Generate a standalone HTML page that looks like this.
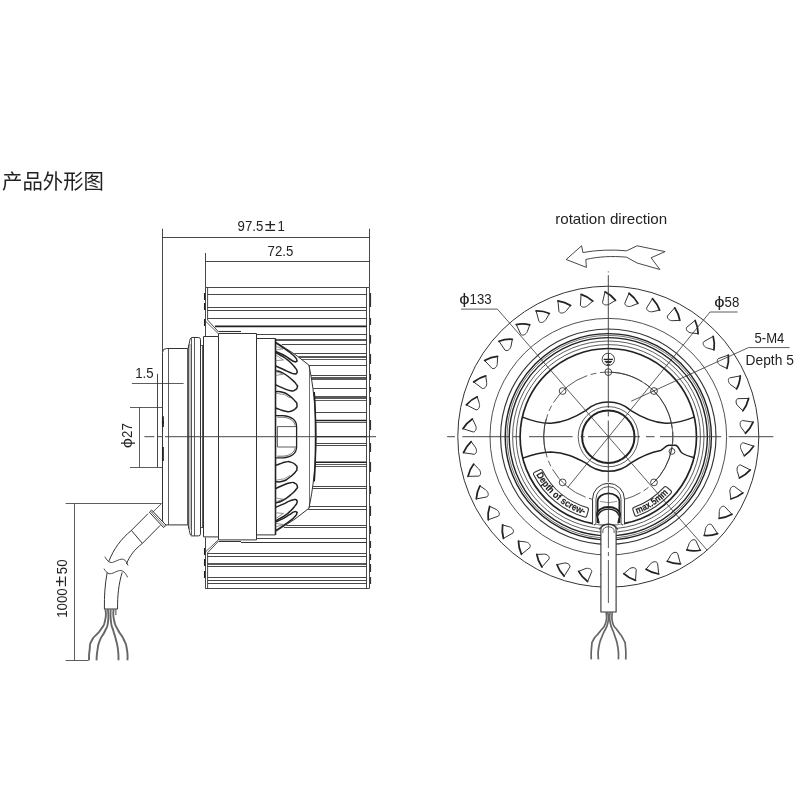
<!DOCTYPE html>
<html lang="zh">
<head>
<meta charset="utf-8">
<title>产品外形图</title>
<style>
html,body{margin:0;padding:0;background:#fff;}
body{width:800px;height:800px;overflow:hidden;position:relative;font-family:"Liberation Sans","Noto Sans CJK SC",sans-serif;color:#222;}
h1{will-change:transform;position:absolute;left:2px;top:168.4px;margin:0;font-size:20.4px;line-height:28px;font-weight:400;letter-spacing:0;color:#222;white-space:nowrap;}
svg{position:absolute;left:0;top:0;will-change:transform;}
svg text{font-family:"Liberation Sans","Noto Sans CJK SC",sans-serif;fill:#222;stroke:none;}
</style>
</head>
<body>
<h1>产品外形图</h1>
<svg width="800" height="800" viewBox="0 0 800 800" fill="none" stroke="#333" stroke-width="0.9" stroke-linecap="butt" stroke-linejoin="round">
<g id="side">
<line x1="162.5" y1="228.7" x2="162.5" y2="352"/>
<line x1="369.5" y1="228.7" x2="369.5" y2="287.4"/>
<line x1="162" y1="237.5" x2="369.3" y2="237.5"/>
<line x1="205.5" y1="253" x2="205.5" y2="287.4"/>
<line x1="205.4" y1="261.5" x2="369.3" y2="261.5"/>
<line x1="205.4" y1="287.5" x2="369.3" y2="287.5"/>
<line x1="205.4" y1="588.5" x2="369.3" y2="588.5"/>
<line x1="366.5" y1="287.4" x2="366.5" y2="588.6"/>
<line x1="369.5" y1="287.4" x2="369.5" y2="588.6"/>
<line x1="205.5" y1="287.4" x2="205.5" y2="336.5"/>
<line x1="205.5" y1="537.5" x2="205.5" y2="588.6"/>
<path d="M207.6,287.4 L207.6,320 L218.6,332"/>
<path d="M207.6,588.6 L207.6,552.8 L218.6,541"/>
<path d="M205.4,321 L218.2,333.6" stroke-width="0.8"/>
<path d="M205.4,552 L218.2,540" stroke-width="0.8"/>
<line x1="204.6" y1="293" x2="204.6" y2="300" stroke-width="1.3" stroke="#222"/>
<line x1="204.6" y1="303" x2="204.6" y2="310" stroke-width="1.3" stroke="#222"/>
<line x1="204.6" y1="319" x2="204.6" y2="326" stroke-width="1.3" stroke="#222"/>
<line x1="204.6" y1="548" x2="204.6" y2="555" stroke-width="1.3" stroke="#222"/>
<line x1="204.6" y1="559" x2="204.6" y2="566" stroke-width="1.3" stroke="#222"/>
<line x1="204.6" y1="571" x2="204.6" y2="578" stroke-width="1.3" stroke="#222"/>
<line x1="370.5" y1="293" x2="370.5" y2="307" stroke-width="1.2"/>
<line x1="370.5" y1="318" x2="370.5" y2="325" stroke-width="1.2"/>
<line x1="370.5" y1="335" x2="370.5" y2="343.6" stroke-width="1.2"/>
<line x1="370.5" y1="354" x2="370.5" y2="364" stroke-width="1.2"/>
<line x1="370.5" y1="374" x2="370.5" y2="380" stroke-width="1.2"/>
<line x1="370.5" y1="387" x2="370.5" y2="392" stroke-width="1.2"/>
<line x1="370.5" y1="397" x2="370.5" y2="405" stroke-width="1.2"/>
<line x1="370.5" y1="420" x2="370.5" y2="430" stroke-width="1.2"/>
<line x1="370.5" y1="443" x2="370.5" y2="452" stroke-width="1.2"/>
<line x1="370.5" y1="462" x2="370.5" y2="472" stroke-width="1.2"/>
<line x1="370.5" y1="486" x2="370.5" y2="494" stroke-width="1.2"/>
<line x1="370.5" y1="506" x2="370.5" y2="516" stroke-width="1.2"/>
<line x1="370.5" y1="526" x2="370.5" y2="534" stroke-width="1.2"/>
<line x1="370.5" y1="541" x2="370.5" y2="548" stroke-width="1.2"/>
<line x1="370.5" y1="554" x2="370.5" y2="560" stroke-width="1.2"/>
<line x1="370.5" y1="564" x2="370.5" y2="572" stroke-width="1.2"/>
<line x1="370.5" y1="577" x2="370.5" y2="584" stroke-width="1.2"/>
<line x1="207.6" y1="294.5" x2="366.6" y2="294.5" stroke-width="0.9"/>
<line x1="207.6" y1="307.5" x2="366.6" y2="307.5" stroke-width="0.9"/>
<line x1="207.6" y1="310.5" x2="366.6" y2="310.5" stroke-width="0.9"/>
<line x1="207.6" y1="318.5" x2="366.6" y2="318.5" stroke-width="0.9"/>
<line x1="215" y1="326.3" x2="366.6" y2="326.3" stroke-width="1.7" stroke="#222"/>
<line x1="218.7" y1="331.5" x2="241" y2="331.5" stroke-width="1.1"/>
<line x1="207.6" y1="583.5" x2="366.6" y2="583.5" stroke-width="0.9"/>
<line x1="207.6" y1="580.5" x2="366.6" y2="580.5" stroke-width="0.9"/>
<line x1="207.6" y1="577.5" x2="366.6" y2="577.5" stroke-width="0.9"/>
<line x1="207.6" y1="566.5" x2="366.6" y2="566.5" stroke-width="0.9"/>
<line x1="207.6" y1="556.5" x2="366.6" y2="556.5" stroke-width="0.9"/>
<line x1="207.6" y1="553.5" x2="366.6" y2="553.5" stroke-width="0.9"/>
<line x1="207.6" y1="564" x2="366.6" y2="564" stroke-width="1.5" stroke="#222"/>
<line x1="241" y1="542.5" x2="366.6" y2="542.5" stroke-width="1.2"/>
<line x1="219" y1="541.5" x2="241" y2="541.5" stroke-width="1"/>
<line x1="256.3" y1="334.5" x2="366.6" y2="334.5" stroke-width="0.9"/>
<line x1="276" y1="340" x2="366.6" y2="340" stroke-width="1.3" stroke="#222"/>
<line x1="281.76" y1="344.5" x2="366.6" y2="344.5" stroke-width="0.9"/>
<line x1="294.49" y1="353.5" x2="366.6" y2="353.5" stroke-width="0.9"/>
<line x1="298.68" y1="357" x2="366.6" y2="357" stroke-width="1.4" stroke="#222"/>
<line x1="301.81" y1="359.5" x2="366.6" y2="359.5" stroke-width="0.8"/>
<line x1="309.1" y1="365.5" x2="366.6" y2="365.5" stroke-width="0.9"/>
<line x1="310.97" y1="375.5" x2="366.6" y2="375.5" stroke-width="0.9"/>
<line x1="311.47" y1="378" x2="366.6" y2="378" stroke-width="1.4" stroke="#222"/>
<line x1="311.73" y1="379.5" x2="366.6" y2="379.5" stroke-width="0.8"/>
<line x1="313.06" y1="388.5" x2="366.6" y2="388.5" stroke-width="0.9"/>
<line x1="314.09" y1="397" x2="366.6" y2="397" stroke-width="1.5" stroke="#222"/>
<line x1="314.29" y1="398.5" x2="366.6" y2="398.5" stroke-width="0.8"/>
<line x1="314.45" y1="400.5" x2="366.6" y2="400.5" stroke-width="0.8"/>
<line x1="315.45" y1="412.5" x2="366.6" y2="412.5" stroke-width="0.9"/>
<line x1="315.94" y1="420.6" x2="366.6" y2="420.6" stroke-width="1.5" stroke="#222"/>
<line x1="316.02" y1="422.5" x2="366.6" y2="422.5" stroke-width="0.8"/>
<line x1="316.3" y1="436.7" x2="366.6" y2="436.7" stroke-width="1.3" stroke="#222"/>
<line x1="316.24" y1="443.5" x2="366.6" y2="443.5" stroke-width="0.9"/>
<line x1="316.2" y1="445.5" x2="366.6" y2="445.5" stroke-width="0.9"/>
<line x1="315.38" y1="462.3" x2="366.6" y2="462.3" stroke-width="1.5" stroke="#222"/>
<line x1="315.22" y1="464.5" x2="366.6" y2="464.5" stroke-width="0.8"/>
<line x1="315.05" y1="466.5" x2="366.6" y2="466.5" stroke-width="0.8"/>
<line x1="312.84" y1="486.5" x2="366.6" y2="486.5" stroke-width="0.9"/>
<line x1="312.54" y1="488.5" x2="366.6" y2="488.5" stroke-width="0.9"/>
<line x1="309.46" y1="506.5" x2="366.6" y2="506.5" stroke-width="0.9"/>
<line x1="308.19" y1="509.5" x2="366.6" y2="509.5" stroke-width="0.9"/>
<line x1="286.23" y1="525.5" x2="366.6" y2="525.5" stroke-width="0.9"/>
<line x1="283.93" y1="527.5" x2="366.6" y2="527.5" stroke-width="0.9"/>
<line x1="256.3" y1="538.5" x2="366.6" y2="538.5" stroke-width="0.9"/>
<rect x="188.4" y="344" width="3.3" height="185.4" fill="#c4c4c4" stroke="none"/>
<path d="M162.5,436.7 L162.5,352.5 Q162.5,348.5 166.5,348.5 L187.5,348.5 C189.6,347.5 188.9,338.5 191.5,337.5 L198.6,337.5 Q200.5,337.5 200.5,339.6 L200.5,436.7" stroke-width="1"/>
<line x1="168.5" y1="348.5" x2="168.5" y2="436.7" stroke-width="0.8"/>
<line x1="187.5" y1="348.5" x2="187.5" y2="436.7" stroke-width="0.8"/>
<line x1="194.5" y1="337.5" x2="194.5" y2="436.7" stroke-width="0.8"/>
<line x1="202.5" y1="345.5" x2="202.5" y2="436.7" stroke-width="0.8"/>
<line x1="200.6" y1="345.5" x2="203.6" y2="345.5" stroke-width="0.8"/>
<path d="M203.5,436.7 L203.5,336.5 L218.5,336.5 L218.5,436.7" stroke-width="1"/>
<path d="M218.5,336.5 L218.5,333.5 L256.5,333.5 L256.5,436.7" stroke-width="1"/>
<path d="M256.5,338.5 L275.5,338.5" stroke-width="1"/>
<line x1="275.5" y1="338.5" x2="275.5" y2="436.7" stroke-width="1.6" stroke="#222"/>
<path d="M275.5,341.8 L295,354.4 L308.8,365 C313,383 316,410 316,436.7" stroke-width="1"/>
<line x1="309.5" y1="365.3" x2="309.5" y2="436.7" stroke-width="0.7"/>
<path d="M314.2,392 C315.2,405 315.6,420 315.6,436.7" stroke-width="1.6" stroke="#222"/>
<path d="M162.5,436.7 L162.5,520.9 Q162.5,524.9 166.5,524.9 L187.5,524.9 C189.6,525.9 188.9,534.9 191.5,535.9 L198.6,535.9 Q200.5,535.9 200.5,533.8 L200.5,436.7" stroke-width="1"/>
<line x1="168.5" y1="524.9" x2="168.5" y2="436.7" stroke-width="0.8"/>
<line x1="187.5" y1="524.9" x2="187.5" y2="436.7" stroke-width="0.8"/>
<line x1="194.5" y1="535.9" x2="194.5" y2="436.7" stroke-width="0.8"/>
<line x1="202.5" y1="527.9" x2="202.5" y2="436.7" stroke-width="0.8"/>
<line x1="200.6" y1="527.5" x2="203.6" y2="527.5" stroke-width="0.8"/>
<path d="M203.5,436.7 L203.5,536.9 L218.5,536.9 L218.5,436.7" stroke-width="1"/>
<path d="M218.5,536.9 L218.5,539.9 L256.5,539.9 L256.5,436.7" stroke-width="1"/>
<path d="M256.5,534.9 L275.5,534.9" stroke-width="1"/>
<line x1="275.5" y1="534.9" x2="275.5" y2="436.7" stroke-width="1.6" stroke="#222"/>
<path d="M275.5,531.6 L295,519 L308.8,508.4 C313,490.4 316,463.4 316,436.7" stroke-width="1"/>
<line x1="309.5" y1="508.1" x2="309.5" y2="436.7" stroke-width="0.7"/>
<path d="M314.2,481.4 C315.2,468.4 315.6,453.4 315.6,436.7" stroke-width="1.6" stroke="#222"/>
<line x1="188.5" y1="345" x2="188.5" y2="528.4" stroke-width="0.8"/>
<line x1="191.5" y1="338" x2="191.5" y2="535.4" stroke-width="0.8"/>
<path d="M275.6,391.6 C277.9,391.8 278.1,390.93 282.5,392.2 C286.9,393.47 284.63,392.47 288.8,395.4 C292.97,398.33 292.3,397.87 295,401 C297.7,404.13 296.7,402.3 296.9,404.8 C297.1,407.3 297.7,406.33 295.6,408.5 C293.5,410.67 293.93,410.37 290.6,411.3 C287.27,412.23 289.33,411.93 285.6,411.3 C281.87,410.67 282.73,410.53 279.4,409.4 C276.07,408.27 276.87,408.4 275.6,407.9" stroke-width="1.5" stroke="#222"/>
<path d="M275.6,370.7 C277.9,371.43 277.5,370.3 282.5,372.9 C287.5,375.5 286.03,374.77 290.6,378.5 C295.17,382.23 294,381.17 296.2,384.1 C298.4,387.03 297.6,385.33 297.2,387.3 C296.8,389.27 297.2,388.87 295,390 C292.8,391.13 294.77,391.4 290.6,390.7 C286.43,390 287.5,389.87 282.5,387.9 C277.5,385.93 277.9,385.83 275.6,384.8" stroke-width="1.5" stroke="#222"/>
<path d="M275.6,352.5 C277.07,353.33 276.87,353.17 280,355 C283.13,356.83 281.67,355.67 285,358 C288.33,360.33 286.67,358.83 290,362 C293.33,365.17 292.67,364.5 295,367.5 C297.33,370.5 296.47,369.1 297,371 C297.53,372.9 297.4,372.27 296.6,373.2 C295.8,374.13 296.8,374.03 294.6,373.8 C292.4,373.57 294.03,374.1 290,372.5 C285.97,370.9 287.3,371.17 282.5,369 C277.7,366.83 277.9,367 275.6,366" stroke-width="1.5" stroke="#222"/>
<path d="M275.6,343 C277.07,343.83 276.87,343.5 280,345.5 C283.13,347.5 281.67,346.67 285,349 C288.33,351.33 286.67,349.83 290,352.5 C293.33,355.17 292.73,354.5 295,357 C297.27,359.5 296.33,358.53 296.8,360 C297.27,361.47 297.33,360.9 296.4,361.4 C295.47,361.9 296.47,362.47 294,361.5 C291.53,360.53 292.83,360.83 289,358.5 C285.17,356.17 286.97,356.83 282.5,354.5 C278.03,352.17 277.9,352.5 275.6,351.5" stroke-width="1.5" stroke="#222"/>
<path d="M275.8,346.4 L283,348.9 L275.8,350" stroke-width="0.8" stroke="#777"/>
<path d="M275.8,355 L283.5,360 L275.8,360.6" stroke-width="0.8" stroke="#777"/>
<path d="M275.8,371.6 L283.2,374.2 L275.8,375.4" stroke-width="0.8" stroke="#777"/>
<path d="M275.8,393.2 L284.4,394.6 L290,398" stroke-width="0.8" stroke="#777"/>
<path d="M275.6,481.8 C277.9,481.6 278.1,482.47 282.5,481.2 C286.9,479.93 284.63,480.93 288.8,478 C292.97,475.07 292.3,475.53 295,472.4 C297.7,469.27 296.7,471.1 296.9,468.6 C297.1,466.1 297.7,467.07 295.6,464.9 C293.5,462.73 293.93,463.03 290.6,462.1 C287.27,461.17 289.33,461.47 285.6,462.1 C281.87,462.73 282.73,462.87 279.4,464 C276.07,465.13 276.87,465 275.6,465.5" stroke-width="1.5" stroke="#222"/>
<path d="M275.6,502.7 C277.9,501.97 277.5,503.1 282.5,500.5 C287.5,497.9 286.03,498.63 290.6,494.9 C295.17,491.17 294,492.23 296.2,489.3 C298.4,486.37 297.6,488.07 297.2,486.1 C296.8,484.13 297.2,484.53 295,483.4 C292.8,482.27 294.77,482 290.6,482.7 C286.43,483.4 287.5,483.53 282.5,485.5 C277.5,487.47 277.9,487.57 275.6,488.6" stroke-width="1.5" stroke="#222"/>
<path d="M275.6,520.9 C277.07,520.07 276.87,520.23 280,518.4 C283.13,516.57 281.67,517.73 285,515.4 C288.33,513.07 286.67,514.57 290,511.4 C293.33,508.23 292.67,508.9 295,505.9 C297.33,502.9 296.47,504.3 297,502.4 C297.53,500.5 297.4,501.13 296.6,500.2 C295.8,499.27 296.8,499.37 294.6,499.6 C292.4,499.83 294.03,499.3 290,500.9 C285.97,502.5 287.3,502.23 282.5,504.4 C277.7,506.57 277.9,506.4 275.6,507.4" stroke-width="1.5" stroke="#222"/>
<path d="M275.6,530.4 C277.07,529.57 276.87,529.9 280,527.9 C283.13,525.9 281.67,526.73 285,524.4 C288.33,522.07 286.67,523.57 290,520.9 C293.33,518.23 292.73,518.9 295,516.4 C297.27,513.9 296.33,514.87 296.8,513.4 C297.27,511.93 297.33,512.5 296.4,512 C295.47,511.5 296.47,510.93 294,511.9 C291.53,512.87 292.83,512.57 289,514.9 C285.17,517.23 286.97,516.57 282.5,518.9 C278.03,521.23 277.9,520.9 275.6,521.9" stroke-width="1.5" stroke="#222"/>
<path d="M275.8,527 L283,524.5 L275.8,523.4" stroke-width="0.8" stroke="#777"/>
<path d="M275.8,518.4 L283.5,513.4 L275.8,512.8" stroke-width="0.8" stroke="#777"/>
<path d="M275.8,501.8 L283.2,499.2 L275.8,498" stroke-width="0.8" stroke="#777"/>
<path d="M275.8,480.2 L284.4,478.8 L290,475.4" stroke-width="0.8" stroke="#777"/>
<path d="M275.6,415.6 L283,415.6 C291,416 296.6,420 296.6,426.4 L296.6,447 C296.6,453.4 291,457.4 283,457.8 L275.6,457.8" stroke-width="1.3" stroke="#222"/>
<path d="M277.2,417.2 L283,417.2 C289.6,417.6 294.4,420.8 295.2,425.6" stroke-width="0.7"/>
<path d="M277.2,456.2 L283,456.2 C289.6,455.8 294.4,452.6 295.2,447.8" stroke-width="0.7"/>
<path d="M296.6,426.6 L277.4,426.6 L277.4,447 L296.6,447" stroke-width="0.8"/>
<path d="M144.4,436.7 H154.4 M157.6,436.7 H162.6 M165,436.7 H316" stroke-width="0.9"/>
<path d="M316,436.7 H376" stroke-width="0.9"/>
<line x1="162.9" y1="416.3" x2="162.9" y2="423.8" stroke-width="1.9" stroke="#222"/>
<line x1="162.9" y1="420.88" x2="162.9" y2="427" stroke-width="1.9" stroke="#222"/>
<line x1="162.9" y1="447" x2="162.9" y2="461" stroke-width="1.9" stroke="#222"/>
<line x1="131.9" y1="383.5" x2="183.6" y2="383.5" stroke-width="0.8"/>
<line x1="157.5" y1="373.8" x2="157.5" y2="467.1" stroke-width="0.9"/>
<line x1="130" y1="407.5" x2="162" y2="407.5" stroke-width="0.8"/>
<line x1="130" y1="467.5" x2="162" y2="467.5" stroke-width="0.8"/>
<line x1="139.5" y1="407.2" x2="139.5" y2="467.1" stroke-width="0.8"/>
<line x1="65.6" y1="503.5" x2="161.4" y2="503.5" stroke-width="0.8"/>
<line x1="74.5" y1="503.6" x2="74.5" y2="660.3" stroke-width="0.8"/>
<line x1="65.6" y1="660.5" x2="88.6" y2="660.5" stroke-width="0.8"/>
<path d="M149.4,512.2 L151.6,510 L166,525.2 L163.6,527.6 Z" stroke-width="1" fill="#fff"/>
<path d="M150.4,511 L164.8,526.4" stroke-width="0.7"/>
<path d="M148,513.7 L131.4,530.4 L142.4,543.4 L160.2,525.4" stroke-width="1" fill="#fff"/>
<line x1="161.4" y1="503.6" x2="152.6" y2="512.4" stroke-width="0.8"/>
<path d="M131.4,530.4 C121,539 113.6,549 108.8,561.4" stroke-width="1"/>
<path d="M142.4,543.4 C134.6,549.4 129.6,556 126.4,564" stroke-width="1"/>
<path d="M104.8,556.6 C106.6,559.8 109,563.2 112.4,562.4 C116.4,561.4 120.2,558.2 123.6,559.4 C126,560.4 127,563 128,565.6" stroke-width="0.9"/>
<path d="M104,568.6 C105.6,571.6 108,574.4 111.4,573.6 C115.4,572.6 118.6,569.6 122,570.8 C124.6,571.8 126.4,574.6 127.6,577.4" stroke-width="0.9"/>
<path d="M107.2,572.6 C105,584 104.2,596 104.4,609 L117.6,609 C117.4,596 118.6,584 122.2,572.4" stroke-width="1"/>
<path d="M105.5,609 C105.4,612.67 106.87,613 105.2,620 C103.53,627 104.9,623.33 100.5,630 C96.1,636.67 95.63,633.33 92,640 C88.37,646.67 90.6,643.23 89.6,650 C88.6,656.77 89.2,656.87 89,660.3" stroke-width="1.9" stroke="#666" stroke-linecap="butt"/>
<path d="M108,609 C108,613.33 109,614.67 108,622 C107,629.33 107.67,625 105,631 C102.33,637 102.5,633.67 100,640 C97.5,646.33 98.67,643.23 97.5,650 C96.33,656.77 96.83,656.87 96.5,660.3" stroke-width="1.9" stroke="#666" stroke-linecap="butt"/>
<path d="M110.6,609 C110.73,613.33 110.07,614.67 111,622 C111.93,629.33 111.73,625 113.4,631 C115.07,637 114.47,633.67 116,640 C117.53,646.33 117.17,643.23 118,650 C118.83,656.77 118.33,656.87 118.5,660.3" stroke-width="1.9" stroke="#666" stroke-linecap="butt"/>
<path d="M113.5,609 C113.67,612.67 112.5,613 114,620 C115.5,627 114.67,623.33 118,630 C121.33,636.67 121,633.33 124,640 C127,646.67 125.83,643.23 127,650 C128.17,656.77 127.33,656.87 127.5,660.3" stroke-width="1.9" stroke="#666" stroke-linecap="butt"/>
<path d="M115.8,609 L115.9,615" stroke-width="1.2" stroke="#666" stroke-linecap="butt"/>
</g>
<g id="front">
<circle cx="608.3" cy="436.7" r="150.5" stroke-width="1"/>
<circle cx="608.3" cy="436.7" r="118.3" stroke-width="0.85"/>
<circle cx="608.3" cy="436.7" r="107.7" stroke-width="1.15"/>
<circle cx="608.3" cy="436.7" r="103.1" stroke-width="1.4" stroke="#222"/>
<circle cx="608.3" cy="436.7" r="101.3" stroke-width="0.7"/>
<circle cx="608.3" cy="436.7" r="99.1" stroke-width="1.4" stroke="#222"/>
<circle cx="608.3" cy="436.7" r="95.7" stroke-width="0.8"/>
<circle cx="608.3" cy="436.7" r="92.1" stroke-width="0.8"/>
<circle cx="608.3" cy="436.7" r="88.2" stroke-width="1.7" stroke="#222"/>
<path d="M605,291.84 Q611.53,295.24 615.48,300.39" stroke-width="1.75" stroke="#222" stroke-linecap="round"/>
<path d="M615.48,300.39 L609.58,304.01 C607.03,305.61 603.11,305.2 602.52,302.42 L605,291.84" stroke-width="1"/>
<path d="M629,293.28 Q634.88,297.71 637.93,303.44" stroke-width="1.75" stroke="#222" stroke-linecap="round"/>
<path d="M637.93,303.44 L631.52,306.04 C628.74,307.2 624.94,306.15 624.82,303.31 L629,293.28" stroke-width="1"/>
<path d="M652.44,298.65 Q657.51,303.99 659.58,310.14" stroke-width="1.75" stroke="#222" stroke-linecap="round"/>
<path d="M659.58,310.14 L652.82,311.65 C649.9,312.34 646.31,310.68 646.66,307.86 L652.44,298.65" stroke-width="1"/>
<path d="M674.67,307.81 Q678.8,313.91 679.83,320.32" stroke-width="1.75" stroke="#222" stroke-linecap="round"/>
<path d="M679.83,320.32 L672.91,320.69 C669.91,320.89 666.65,318.66 667.46,315.94 L674.67,307.81" stroke-width="1"/>
<path d="M695.1,320.5 Q698.16,327.19 698.12,333.69" stroke-width="1.75" stroke="#222" stroke-linecap="round"/>
<path d="M698.12,333.69 L691.24,332.92 C688.25,332.62 685.4,329.89 686.65,327.34 L695.1,320.5" stroke-width="1"/>
<path d="M713.16,336.38 Q715.08,343.49 713.97,349.89" stroke-width="1.75" stroke="#222" stroke-linecap="round"/>
<path d="M713.97,349.89 L707.31,348 C704.41,347.21 702.04,344.04 703.69,341.73 L713.16,336.38" stroke-width="1"/>
<path d="M728.35,355.02 Q729.08,362.34 726.93,368.47" stroke-width="1.75" stroke="#222" stroke-linecap="round"/>
<path d="M726.93,368.47 L720.67,365.51 C717.94,364.26 716.13,360.75 718.14,358.74 L728.35,355.02" stroke-width="1"/>
<path d="M740.28,375.9 Q739.79,383.25 736.66,388.94" stroke-width="1.75" stroke="#222" stroke-linecap="round"/>
<path d="M736.66,388.94 L730.97,384.99 C728.49,383.3 727.28,379.54 729.59,377.89 L740.28,375.9" stroke-width="1"/>
<path d="M748.6,398.46 Q746.91,405.63 742.88,410.73" stroke-width="1.75" stroke="#222" stroke-linecap="round"/>
<path d="M742.88,410.73 L737.93,405.9 C735.75,403.82 735.18,399.91 737.73,398.67 L748.6,398.46" stroke-width="1"/>
<path d="M753.09,422.09 Q750.24,428.88 745.44,433.24" stroke-width="1.75" stroke="#222" stroke-linecap="round"/>
<path d="M745.44,433.24 L741.34,427.66 C739.54,425.26 739.62,421.31 742.34,420.5 L753.09,422.09" stroke-width="1"/>
<path d="M753.64,446.13 Q749.71,452.35 744.25,455.87" stroke-width="1.75" stroke="#222" stroke-linecap="round"/>
<path d="M744.25,455.87 L741.13,449.69 C739.75,447.02 740.48,443.14 743.29,442.79 L753.64,446.13" stroke-width="1"/>
<path d="M750.22,469.93 Q745.32,475.43 739.36,478" stroke-width="1.75" stroke="#222" stroke-linecap="round"/>
<path d="M739.36,478 L737.3,471.39 C736.37,468.53 737.73,464.82 740.56,464.94 L750.22,469.93" stroke-width="1"/>
<path d="M742.93,492.85 Q737.19,497.46 730.89,499.01" stroke-width="1.75" stroke="#222" stroke-linecap="round"/>
<path d="M730.89,499.01 L729.94,492.16 C729.5,489.18 731.45,485.75 734.23,486.33 L742.93,492.85" stroke-width="1"/>
<path d="M731.97,514.25 Q725.55,517.86 719.07,518.35" stroke-width="1.75" stroke="#222" stroke-linecap="round"/>
<path d="M719.07,518.35 L719.27,511.43 C719.33,508.43 721.81,505.36 724.46,506.39 L731.97,514.25" stroke-width="1"/>
<path d="M717.63,533.56 Q710.71,536.06 704.24,535.48" stroke-width="1.75" stroke="#222" stroke-linecap="round"/>
<path d="M704.24,535.48 L705.57,528.69 C706.12,525.73 709.08,523.11 711.52,524.57 L717.63,533.56" stroke-width="1"/>
<path d="M700.31,550.24 Q693.07,551.57 686.79,549.93" stroke-width="1.75" stroke="#222" stroke-linecap="round"/>
<path d="M686.79,549.93 L689.22,543.45 C690.25,540.63 693.6,538.53 695.76,540.37 L700.31,550.24" stroke-width="1"/>
<path d="M680.49,563.85 Q673.12,563.96 667.2,561.32" stroke-width="1.75" stroke="#222" stroke-linecap="round"/>
<path d="M667.2,561.32 L670.66,555.33 C672.14,552.71 675.79,551.19 677.62,553.36 L680.49,563.85" stroke-width="1"/>
<path d="M658.69,574 Q651.41,572.91 646,569.32" stroke-width="1.75" stroke="#222" stroke-linecap="round"/>
<path d="M646,569.32 L650.4,563.98 C652.29,561.64 656.14,560.75 657.59,563.19 L658.69,574" stroke-width="1"/>
<path d="M635.52,580.43 Q628.52,578.16 623.77,573.73" stroke-width="1.75" stroke="#222" stroke-linecap="round"/>
<path d="M623.77,573.73 L628.99,569.19 C631.24,567.19 635.18,566.94 636.21,569.59 L635.52,580.43" stroke-width="1"/>
<path d="M611.6,582.96 Q605.07,579.56 601.12,574.41" stroke-width="1.75" stroke="#222" stroke-linecap="round"/>
<path d="M601.12,574.41 L607.02,570.79 C609.57,569.19 613.49,569.6 614.08,572.38 L611.6,582.96" stroke-width="1"/>
<path d="M587.6,581.52 Q581.72,577.09 578.67,571.36" stroke-width="1.75" stroke="#222" stroke-linecap="round"/>
<path d="M578.67,571.36 L585.08,568.76 C587.86,567.6 591.66,568.65 591.78,571.49 L587.6,581.52" stroke-width="1"/>
<path d="M564.16,576.15 Q559.09,570.81 557.02,564.66" stroke-width="1.75" stroke="#222" stroke-linecap="round"/>
<path d="M557.02,564.66 L563.78,563.15 C566.7,562.46 570.29,564.12 569.94,566.94 L564.16,576.15" stroke-width="1"/>
<path d="M541.93,566.99 Q537.8,560.89 536.77,554.48" stroke-width="1.75" stroke="#222" stroke-linecap="round"/>
<path d="M536.77,554.48 L543.69,554.11 C546.69,553.91 549.95,556.14 549.14,558.86 L541.93,566.99" stroke-width="1"/>
<path d="M521.5,554.3 Q518.44,547.61 518.48,541.11" stroke-width="1.75" stroke="#222" stroke-linecap="round"/>
<path d="M518.48,541.11 L525.36,541.88 C528.35,542.18 531.2,544.91 529.95,547.46 L521.5,554.3" stroke-width="1"/>
<path d="M503.44,538.42 Q501.52,531.31 502.63,524.91" stroke-width="1.75" stroke="#222" stroke-linecap="round"/>
<path d="M502.63,524.91 L509.29,526.8 C512.19,527.59 514.56,530.76 512.91,533.07 L503.44,538.42" stroke-width="1"/>
<path d="M488.25,519.78 Q487.52,512.46 489.67,506.33" stroke-width="1.75" stroke="#222" stroke-linecap="round"/>
<path d="M489.67,506.33 L495.93,509.29 C498.66,510.54 500.47,514.05 498.46,516.06 L488.25,519.78" stroke-width="1"/>
<path d="M476.32,498.9 Q476.81,491.55 479.94,485.86" stroke-width="1.75" stroke="#222" stroke-linecap="round"/>
<path d="M479.94,485.86 L485.63,489.81 C488.11,491.5 489.32,495.26 487.01,496.91 L476.32,498.9" stroke-width="1"/>
<path d="M468,476.34 Q469.69,469.17 473.72,464.07" stroke-width="1.75" stroke="#222" stroke-linecap="round"/>
<path d="M473.72,464.07 L478.67,468.9 C480.85,470.98 481.42,474.89 478.87,476.13 L468,476.34" stroke-width="1"/>
<path d="M463.51,452.71 Q466.36,445.92 471.16,441.56" stroke-width="1.75" stroke="#222" stroke-linecap="round"/>
<path d="M471.16,441.56 L475.26,447.14 C477.06,449.54 476.98,453.49 474.26,454.3 L463.51,452.71" stroke-width="1"/>
<path d="M462.96,428.67 Q466.89,422.45 472.35,418.93" stroke-width="1.75" stroke="#222" stroke-linecap="round"/>
<path d="M472.35,418.93 L475.47,425.11 C476.85,427.78 476.12,431.66 473.31,432.01 L462.96,428.67" stroke-width="1"/>
<path d="M466.38,404.87 Q471.28,399.37 477.24,396.8" stroke-width="1.75" stroke="#222" stroke-linecap="round"/>
<path d="M477.24,396.8 L479.3,403.41 C480.23,406.27 478.87,409.98 476.04,409.86 L466.38,404.87" stroke-width="1"/>
<path d="M473.67,381.95 Q479.41,377.34 485.71,375.79" stroke-width="1.75" stroke="#222" stroke-linecap="round"/>
<path d="M485.71,375.79 L486.66,382.64 C487.1,385.62 485.15,389.05 482.37,388.47 L473.67,381.95" stroke-width="1"/>
<path d="M484.63,360.55 Q491.05,356.94 497.53,356.45" stroke-width="1.75" stroke="#222" stroke-linecap="round"/>
<path d="M497.53,356.45 L497.33,363.37 C497.27,366.37 494.79,369.44 492.14,368.41 L484.63,360.55" stroke-width="1"/>
<path d="M498.97,341.24 Q505.89,338.74 512.36,339.32" stroke-width="1.75" stroke="#222" stroke-linecap="round"/>
<path d="M512.36,339.32 L511.03,346.11 C510.48,349.07 507.52,351.69 505.08,350.23 L498.97,341.24" stroke-width="1"/>
<path d="M516.29,324.56 Q523.53,323.23 529.81,324.87" stroke-width="1.75" stroke="#222" stroke-linecap="round"/>
<path d="M529.81,324.87 L527.38,331.35 C526.35,334.17 523,336.27 520.84,334.43 L516.29,324.56" stroke-width="1"/>
<path d="M536.11,310.95 Q543.48,310.84 549.4,313.48" stroke-width="1.75" stroke="#222" stroke-linecap="round"/>
<path d="M549.4,313.48 L545.94,319.47 C544.46,322.09 540.81,323.61 538.98,321.44 L536.11,310.95" stroke-width="1"/>
<path d="M557.91,300.8 Q565.19,301.89 570.6,305.48" stroke-width="1.75" stroke="#222" stroke-linecap="round"/>
<path d="M570.6,305.48 L566.2,310.82 C564.31,313.16 560.46,314.05 559.01,311.61 L557.91,300.8" stroke-width="1"/>
<path d="M581.08,294.37 Q588.08,296.64 592.83,301.07" stroke-width="1.75" stroke="#222" stroke-linecap="round"/>
<path d="M592.83,301.07 L587.61,305.61 C585.36,307.61 581.42,307.86 580.39,305.21 L581.08,294.37" stroke-width="1"/>
<path d="M521.9,416.9 C532,421 542,423.6 551,423.2 C565,422.4 575,417.4 585.6,410.59 A34.6,34.6 0 0 1 631,410.59 C641.6,417.4 651.6,422.4 665.6,423.2 C674.6,423.6 684.6,421 694.7,416.9" stroke-width="1.5" stroke="#222"/>
<path d="M522.1,458.4 C532,454.6 542,452.2 551,452 C565,452.4 575,457.2 585.6,462.81 A34.6,34.6 0 0 0 631,462.81" stroke-width="1.5" stroke="#222"/>
<path d="M631,462.81 C640,457 650,452.4 660.6,450.4 C664,449.6 665,445.6 668.6,445.2 L675.4,445.2 C679,445.6 679,451 682,453 C686,455.6 690,456.6 694.7,457.8" stroke-width="1.5" stroke="#222"/>
<circle cx="608.3" cy="436.7" r="30.1" stroke-width="0.8"/>
<circle cx="608.3" cy="436.7" r="26.2" stroke-width="2" stroke="#222"/>
<circle cx="608.3" cy="436.7" r="64.6" stroke-width="0.8" stroke-dasharray="44 3.5 6 3.5" stroke-dashoffset="46.5"/>
<path d="M611.68,372.19 A64.6,64.6 0 0 1 653.98,482.38" stroke-width="0.8"/>
<path d="M545.62,452.33 A64.6,64.6 0 0 1 546.2,418.89" stroke-width="0.8"/>
<circle cx="608.3" cy="372.1" r="3.4" stroke-width=".9"/>
<circle cx="562.62" cy="391.02" r="3.4" stroke-width=".9"/>
<circle cx="653.98" cy="391.02" r="3.4" stroke-width=".9"/>
<circle cx="562.62" cy="482.38" r="3.4" stroke-width=".9"/>
<circle cx="653.98" cy="482.38" r="3.4" stroke-width=".9"/>
<circle cx="672" cy="451.4" r="2.9" stroke-width=".9"/>
<circle cx="608.3" cy="359.4" r="6.2" stroke-width=".9"/>
<line x1="608.5" y1="353.8" x2="608.5" y2="359.4" stroke-width="1"/>
<line x1="603.7" y1="359.4" x2="612.9" y2="359.4" stroke-width="1.3" stroke="#222"/>
<line x1="604.7" y1="361.5" x2="611.9" y2="361.5" stroke-width="1.2"/>
<line x1="605.7" y1="362.5" x2="610.9" y2="362.5" stroke-width="1.2"/>
<line x1="606.9" y1="364.5" x2="609.7" y2="364.5" stroke-width="1"/>
<path d="M447.2,436.7 H455 M462.4,436.7 H509 M513,436.7 H521 M529,436.7 H572.6 M580.6,436.7 H584.6 M588,436.7 H640 M646,436.7 H654.6 M660,436.7 H721.2 M728.6,436.7 H773.4" stroke-width="0.9"/>
<path d="M608.3,271.4 V272.4 M608.3,275.2 V408 M608.3,411.2 V416.4 M608.3,420.6 V482 M608.3,486 V490 M608.3,494 V524" stroke-width="0.9"/>
<path d="M737.6,312 H710 L567.94,487.15" stroke-width="0.8"/>
<path d="M461,309.1 H497.4 L707.08,550.12" stroke-width="0.8"/>
<path d="M789.6,347.6 H748.4 L631.2,401.2" stroke-width="0.8"/>
<path d="M533.75,474.96 A83.8,83.8 0 0 0 584.4,517.02 Q586.33,517.57 586.85,515.64 L588.37,510.04 Q588.9,508.11 586.98,507.56 A74,74 0 0 1 542.57,470.7 Q541.68,468.91 539.88,469.78 L534.65,472.3 Q532.85,473.17 533.75,474.96 Z" stroke-width="1.1"/>
<path d="M637.11,516.03 A84.4,84.4 0 0 0 670.87,493.35 Q672.19,491.85 670.68,490.54 L666.74,487.14 Q665.23,485.84 663.9,487.33 A75.2,75.2 0 0 1 634.17,507.31 Q632.29,507.97 632.92,509.87 L634.58,514.8 Q635.22,516.69 637.11,516.03 Z" stroke-width="1.1"/>
<path d="M592.55,524.4 L592.55,499.2 A15.95,15.95 0 0 1 624.45,499.2 L624.45,524.4" stroke-width="1" fill="#fff"/>
<path d="M595.95,523.6 L595.95,499.2 A12.55,12.55 0 0 1 621.05,499.2 L621.05,523.6" stroke-width="0.85"/>
<path d="M595.95,523.6 L593.9,525.4 M621.05,523.6 L623.1,525.4" stroke-width="0.9"/>
<path d="M597.6,523 L597.6,501.6 A10.9,8.2 0 0 1 619.4,501.6 L619.4,523" stroke-width="1.8" stroke="#222" fill="#fff"/>
<path d="M599.9,501.4 Q608.5,504 617.1,501.4" stroke-width="0.8" stroke="#777"/>
<path d="M598.9,523.4 L596.9,514.6 A11.6,7.6 0 0 1 620.1,514.6 L618.1,523.4" stroke-width="1.8" stroke="#222" fill="#fff"/>
<path d="M598.3,515.8 A10.2,6.6 0 0 1 618.7,515.8" stroke-width="1.3" stroke="#222"/>
<path d="M600.9,612 L600.9,529 A7.6,4.6 0 0 1 616.1,529 L616.1,612 Z" stroke-width="1.1" fill="#fff"/>
<path d="M602.9,533 L602.9,530.6 A5.6,3.8 0 0 1 614.1,530.6 L614.1,533" stroke-width="0.8"/>
<path d="M599.5,529.6 A9,5.6 0 0 1 617.5,529.6" stroke-width="1"/>
<path d="M608.4,484 V548 M608.4,552 V556 M608.4,560 V603" stroke-width="0.8"/>
<path d="M606.2,612 C606,615.67 607.8,616.33 605.6,623 C603.4,629.67 603.6,626.5 599.6,632 C595.6,637.5 596.27,634.5 593.6,639.5 C590.93,644.5 592.4,640.37 591.6,647 C590.8,653.63 591.33,655.27 591.2,659.4" stroke-width="1.7" stroke="#666" stroke-linecap="butt"/>
<path d="M607.8,612 C607.8,615.67 609.53,615.33 607.8,623 C606.07,630.67 605.6,627 602.6,635 C599.6,643 600.23,638.87 598.8,647 C597.37,655.13 598.47,655.27 598.3,659.4" stroke-width="1.7" stroke="#666" stroke-linecap="butt"/>
<path d="M610,612 C610.1,615.67 608.8,615.33 610.3,623 C611.8,630.67 612,627 614.5,635 C617,643 616.47,638.87 617.8,647 C619.13,655.13 618.27,655.27 618.5,659.4" stroke-width="1.7" stroke="#666" stroke-linecap="butt"/>
<path d="M612.2,612 C612.37,615.67 610.93,616.83 612.7,623 C614.47,629.17 613.9,625 617.5,630.5 C621.1,636 620.83,634 623.5,639.5 C626.17,645 624.73,640.37 625.5,647 C626.27,653.63 625.7,655.27 625.8,659.4" stroke-width="1.7" stroke="#666" stroke-linecap="butt"/>
<path d="M566.2,259.5 L581.6,245.8 L582.9,252.5 C597,250 612,249.4 626.6,250.8 L637.1,245.8 L665.1,251.6 L651.1,257.8 L659.9,269.5 L637.1,263 L626.6,257.2 C612,255.8 598,256.6 585.8,259.5 L586.4,267.4 Z" stroke-width="0.9"/>
</g>
<g id="labels" stroke="none" fill="#222">
<text font-size="13.9" transform="translate(237.6,231.2) scale(0.95,1)">97.5<tspan font-size="16.8" dx="1.6" dy="-0.4" textLength="11.6" lengthAdjust="spacingAndGlyphs">±</tspan><tspan dx="1.8" dy="0.4">1</tspan></text>
<text font-size="13.9" transform="translate(267.6,255.7) scale(0.95,1)">72.5</text>
<text font-size="13.9" transform="translate(135.2,377.6) scale(0.95,1)">1.5</text>
<text font-size="13.9" transform="translate(132,448.3) rotate(-90) scale(0.95,1)"><tspan textLength="10.9" lengthAdjust="spacingAndGlyphs">ϕ</tspan>27</text>
<text font-size="13.9" transform="translate(66.8,617.8) rotate(-90) scale(0.95,1)">1000<tspan font-size="16.8" dx="1.6" dy="-0.4" textLength="11.6" lengthAdjust="spacingAndGlyphs">±</tspan><tspan dx="1.8" dy="0.4">50</tspan></text>
<text x="555.2" y="224" font-size="14.8" text-anchor="start" textLength="112" lengthAdjust="spacingAndGlyphs">rotation direction</text>
<text font-size="13.9" transform="translate(459.2,303.8) scale(0.95,1)"><tspan textLength="10.9" lengthAdjust="spacingAndGlyphs">ϕ</tspan>133</text>
<text font-size="13.9" transform="translate(714.2,307) scale(0.95,1)"><tspan textLength="10.9" lengthAdjust="spacingAndGlyphs">ϕ</tspan>58</text>
<text font-size="13.9" transform="translate(754.6,342.5) scale(0.94,1)">5-M4</text>
<text x="745.6" y="365" font-size="13.9" text-anchor="start" textLength="48.2" lengthAdjust="spacingAndGlyphs">Depth 5</text>
<path id="arcL" d="M536.16,474.41 A81.4,81.4 0 0 0 585.86,514.95" fill="none" stroke="none"/>
<text font-size="9.8" font-weight="700" style="stroke:#222;stroke-width:0.12px"><textPath href="#arcL" textLength="64" lengthAdjust="spacingAndGlyphs">Depth of screw-</textPath></text>
<path id="arcR" d="M637.02,513.93 A82.4,82.4 0 0 0 669.54,491.84" fill="none" stroke="none"/>
<text font-size="9.8" font-weight="700" style="stroke:#222;stroke-width:0.12px"><textPath href="#arcR" textLength="38" lengthAdjust="spacingAndGlyphs">max.5mm</textPath></text>
</g>
</svg>
</body>
</html>
